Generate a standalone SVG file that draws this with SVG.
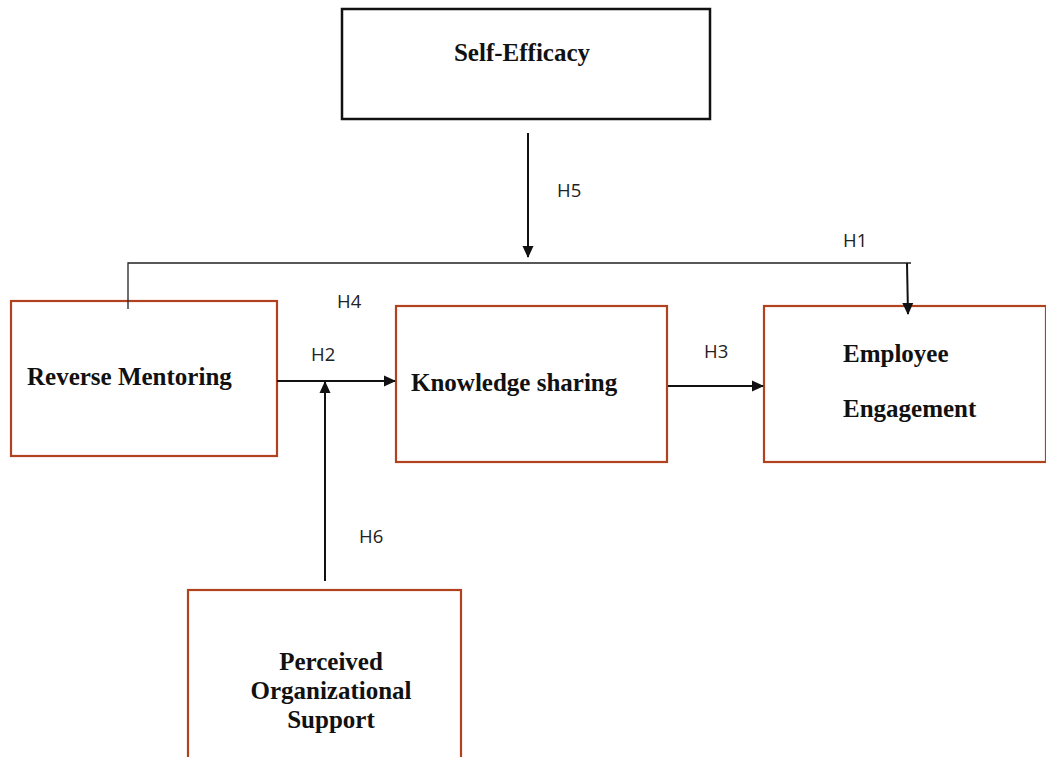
<svg xmlns="http://www.w3.org/2000/svg" width="1046" height="757" viewBox="0 0 1046 757">
<style>
.box{fill:#fff;stroke:#b0431e;stroke-width:2.2}
.blk{fill:#fff;stroke:#111;stroke-width:2.5}
.t{font-family:"Liberation Serif",serif;font-weight:bold;font-size:25px;fill:#111}
.h{font-family:"Open Sans","Liberation Sans",sans-serif;font-size:18.5px;fill:#222}
.ln{stroke:#222;stroke-width:1.3;fill:none}
.ar{stroke:#111;stroke-width:2;fill:none}
</style>
<defs>
<marker id="ah" markerWidth="12" markerHeight="12" refX="11" refY="6" orient="auto" markerUnits="userSpaceOnUse">
<path d="M0,0.5 L12,6 L0,11.5 Z" fill="#111"/>
</marker>
</defs>
<rect width="1046" height="757" fill="#fff"/>
<g id="self-efficacy">
<rect class="blk" x="342" y="9" width="368" height="110"/>
<text class="t" x="522" y="61" text-anchor="middle">Self-Efficacy</text>
</g>
<g id="reverse-mentoring">
<rect class="box" x="11" y="301" width="266" height="155"/>
<text class="t" x="27" y="385">Reverse Mentoring</text>
</g>
<g id="knowledge-sharing">
<rect class="box" x="396" y="306" width="271" height="156"/>
<text class="t" x="411" y="391">Knowledge sharing</text>
</g>
<g id="employee-engagement">
<rect class="box" x="764" y="306" width="282" height="156"/>
<text class="t" x="843" y="362">Employee</text>
<text class="t" x="843" y="417">Engagement</text>
</g>
<g id="pos">
<rect class="box" x="188" y="590" width="273" height="180"/>
<text class="t" x="331" y="670" text-anchor="middle">Perceived</text>
<text class="t" x="331" y="699" text-anchor="middle">Organizational</text>
<text class="t" x="331" y="728" text-anchor="middle">Support</text>
</g>
<g id="connectors">
<polyline class="ln" points="128,309 128,263 911,263"/>
<line class="ar" x1="907" y1="263" x2="908" y2="314" marker-end="url(#ah)"/>
<line class="ar" x1="528" y1="133" x2="528" y2="257" marker-end="url(#ah)"/>
<line class="ar" x1="277" y1="381" x2="395" y2="381" marker-end="url(#ah)"/>
<line class="ar" x1="325" y1="581" x2="325" y2="382" marker-end="url(#ah)"/>
<line class="ar" x1="668" y1="386" x2="763" y2="386" marker-end="url(#ah)"/>
<text class="h" x="557" y="197">H5</text>
<text class="h" x="843" y="247">H1</text>
<text class="h" x="337" y="308">H4</text>
<text class="h" x="311" y="361">H2</text>
<text class="h" x="704" y="358">H3</text>
<text class="h" x="359" y="543">H6</text>
</g>
</svg>
